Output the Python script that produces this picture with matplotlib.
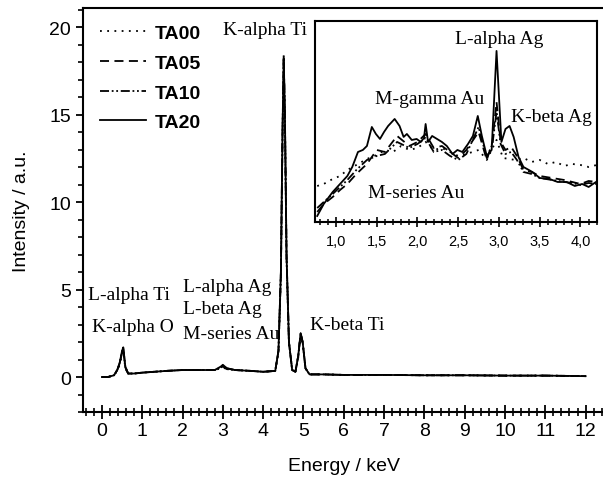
import numpy as np
import matplotlib
matplotlib.use("Agg")
import matplotlib.pyplot as plt
from matplotlib.ticker import MultipleLocator

# main spectrum (keV, a.u.)
main_energy = [0.0, 0.15, 0.3, 0.38, 0.44, 0.5, 0.53, 0.58, 0.65, 0.8, 1.0, 1.3, 1.6, 2.0,
               2.4, 2.8, 2.95, 3.0, 3.1, 3.3, 3.7, 4.0, 4.3, 4.38, 4.44, 4.48, 4.51, 4.54,
               4.58, 4.64, 4.72, 4.8, 4.87, 4.93, 4.98, 5.05, 5.15, 5.5, 6.0, 7.0, 8.0,
               9.0, 10.0, 11.0, 12.0]
main_ta00 = [0.0, 0.0, 0.1, 0.35, 0.7, 1.3, 1.5, 0.5, 0.2, 0.2, 0.25, 0.3, 0.35, 0.4,
             0.4, 0.4, 0.5, 0.55, 0.45, 0.4, 0.35, 0.3, 0.35, 1.4, 5.8, 13.5, 18.0, 14.6,
             6.8, 1.9, 0.4, 0.3, 1.1, 2.4, 1.9, 0.5, 0.15, 0.15, 0.12, 0.12, 0.1, 0.1,
             0.08, 0.08, 0.05]
main_ta05 = [0.0, 0.0, 0.1, 0.4, 0.75, 1.4, 1.6, 0.55, 0.2, 0.2, 0.25, 0.3, 0.35, 0.4,
             0.4, 0.4, 0.55, 0.6, 0.45, 0.4, 0.35, 0.3, 0.35, 1.5, 5.9, 13.8, 18.2, 14.8,
             6.9, 2.0, 0.4, 0.3, 1.2, 2.5, 2.0, 0.5, 0.15, 0.15, 0.12, 0.12, 0.1, 0.1,
             0.08, 0.08, 0.05]
main_ta10 = [0.0, 0.0, 0.1, 0.4, 0.8, 1.5, 1.65, 0.6, 0.2, 0.2, 0.25, 0.3, 0.35, 0.4,
             0.4, 0.4, 0.55, 0.65, 0.5, 0.4, 0.35, 0.3, 0.35, 1.5, 6.0, 14.0, 18.4, 15.0,
             7.0, 2.0, 0.4, 0.3, 1.2, 2.5, 2.0, 0.5, 0.15, 0.15, 0.12, 0.12, 0.1, 0.1,
             0.08, 0.08, 0.05]
main_ta20 = [0.0, 0.0, 0.1, 0.4, 0.8, 1.5, 1.7, 0.6, 0.2, 0.2, 0.25, 0.3, 0.35, 0.4,
             0.4, 0.4, 0.6, 0.7, 0.5, 0.4, 0.35, 0.3, 0.35, 1.5, 6.0, 14.0, 18.3, 15.0,
             7.0, 2.0, 0.4, 0.3, 1.2, 2.5, 2.0, 0.5, 0.15, 0.15, 0.12, 0.12, 0.1, 0.1,
             0.08, 0.08, 0.05]

# inset, 0.75 - 4.2 keV (arbitrary scale)
ins_e00 = [0.77, 0.85, 0.96, 1.05, 1.14, 1.25, 1.38, 1.5, 1.6, 1.7, 1.8, 1.9, 2.0, 2.1,
           2.2, 2.3, 2.4, 2.5, 2.6, 2.75, 2.85, 2.97, 3.05, 3.2, 3.3, 3.4, 3.5, 3.6,
           3.7, 3.8, 3.9, 4.0, 4.1, 4.2]
ins_ta00 = [36, 38, 43, 46, 52, 57, 63, 67, 72, 70, 76, 72, 74, 80, 72, 74, 70, 66, 68,
            72, 62, 82, 64, 62, 64, 60, 62, 58, 60, 56, 58, 57, 55, 57]
ins_e05 = [0.77, 0.85, 0.96, 1.05, 1.14, 1.25, 1.38, 1.5, 1.6, 1.75, 1.9, 2.0, 2.1, 2.2,
           2.3, 2.4, 2.5, 2.6, 2.75, 2.85, 2.92, 2.97, 3.02, 3.08, 3.15, 3.22, 3.3,
           3.4, 3.5, 3.65, 3.8, 3.9, 4.0, 4.1, 4.2]
ins_ta05 = [10, 18, 25, 32, 38, 48, 58, 72, 70, 86, 76, 80, 88, 74, 76, 70, 64, 72, 90,
            62, 80, 120, 80, 72, 75, 66, 52, 50, 46, 44, 42, 40, 38, 41, 40]
ins_ta10 = [14, 20, 28, 35, 42, 52, 62, 66, 68, 80, 74, 78, 84, 70, 72, 66, 62, 68, 95,
            64, 78, 110, 78, 68, 70, 62, 50, 48, 44, 42, 40, 39, 37, 39, 38]
ins_e20 = [0.77, 0.85, 0.96, 1.05, 1.14, 1.2, 1.27, 1.33, 1.38, 1.44, 1.49, 1.54, 1.59,
           1.64, 1.72, 1.78, 1.83, 1.87, 1.93, 1.99, 2.04, 2.08, 2.1, 2.13, 2.18, 2.24,
           2.3, 2.36, 2.43, 2.49, 2.55, 2.62, 2.68, 2.74, 2.79, 2.85, 2.91, 2.97, 3.03,
           3.08, 3.13, 3.18, 3.24, 3.3, 3.41, 3.5, 3.62, 3.72, 3.83, 3.93, 4.02, 4.1, 4.19]
ins_ta20 = [6, 18, 30, 38, 46, 55, 70, 72, 76, 95, 88, 83, 90, 96, 103, 96, 85, 88, 82,
            83, 80, 84, 98, 80, 86, 83, 80, 76, 68, 72, 70, 78, 86, 106, 86, 66, 72, 171,
            80, 93, 96, 85, 65, 55, 50, 44, 43, 40, 40, 36, 38, 35, 40]

series_labels = ["TA00", "TA05", "TA10", "TA20"]
styles = [(0, (1, 3)), (0, (5, 3)), (0, (5, 1.5, 1, 1.5, 1, 1.5)), "-"]

main_curves = [main_ta00, main_ta05, main_ta10, main_ta20]
ins_curves = [(ins_e00, ins_ta00), (ins_e05, ins_ta05), (ins_e05, ins_ta10), (ins_e20, ins_ta20)]

serif = "Liberation Serif"
sans = "Liberation Sans"

fig = plt.figure(figsize=(6.03, 4.81), dpi=100)
ax = fig.add_axes([0.1376, 0.1414, 0.867, 0.8396])
for vals, ls, lab in zip(main_curves, styles, series_labels):
    ax.plot(main_energy, vals, color="black", lw=1.3, linestyle=ls, label=lab)

ax.set_xlim(-0.47, 12.5)
ax.set_ylim(-2, 21.1)
ax.spines["right"].set_visible(False)
for s in ax.spines.values():
    s.set_linewidth(1.5)
ax.xaxis.set_major_locator(MultipleLocator(1))
ax.xaxis.set_minor_locator(MultipleLocator(0.2))
ax.yaxis.set_major_locator(MultipleLocator(5))
ax.yaxis.set_minor_locator(MultipleLocator(1))
ax.tick_params(axis="x", which="major", direction="inout", length=10, width=1.3, labelsize=14, pad=2)
ax.tick_params(axis="x", which="minor", direction="inout", length=5.5, width=1.2)
ax.tick_params(axis="y", which="major", direction="out", length=5, width=1.3, labelsize=14)
ax.tick_params(axis="y", which="minor", direction="out", length=3.5, width=1.2)
for lbl in ax.get_xticklabels() + ax.get_yticklabels():
    lbl.set_fontfamily(sans)
ax.set_xlabel("Energy / keV", fontsize=14, family=sans, labelpad=13)
ax.set_ylabel("Intensity / a.u.", fontsize=14, family=sans, labelpad=14)

leg = ax.legend(loc="upper left", frameon=False, handlelength=2.4, handletextpad=0.45,
                labelspacing=0.62, borderaxespad=0.45, borderpad=0.4,
                prop={"family": sans, "weight": "bold", "size": 14})

tk = dict(family=serif, fontsize=14, color="black")
ax.text(4.05, 19.9, "K-alpha Ti", ha="center", va="center", **tk)
ax.text(-0.35, 4.7, "L-alpha Ti", ha="left", va="center", **tk)
ax.text(-0.25, 2.9, "K-alpha O", ha="left", va="center", **tk)
ax.text(2.0, 5.2, "L-alpha Ag", ha="left", va="center", **tk)
ax.text(2.0, 3.9, "L-beta Ag", ha="left", va="center", **tk)
ax.text(2.0, 2.5, "M-series Au", ha="left", va="center", **tk)
ax.text(5.17, 3.0, "K-beta Ti", ha="left", va="center", **tk)

# inset
ins = fig.add_axes([0.522, 0.5364, 0.4677, 0.418])
for (e, vals), ls in zip(ins_curves, styles):
    ins.plot(e, vals, color="black", lw=1.3, linestyle=ls)
ins.set_xlim(0.74, 4.2)
ins.set_ylim(0, 201)
for s in ins.spines.values():
    s.set_linewidth(1.5)
ins_ticks = [1.0, 1.5, 2.0, 2.5, 3.0, 3.5, 4.0]
ins_ticklabels = ["1,0", "1,5", "2,0", "2,5", "3,0", "3,5", "4,0"]
ins.set_xticks(ins_ticks)
ins.set_xticklabels(ins_ticklabels, family=sans, fontsize=10.5)
ins.xaxis.set_minor_locator(MultipleLocator(0.1))
ins.tick_params(axis="x", which="major", direction="inout", length=7, width=1.2, pad=5)
ins.tick_params(axis="x", which="minor", direction="inout", length=4.5, width=1.1)
ins.set_yticks([])

ti = dict(family=serif, fontsize=14, color="black")
ins.text(3.0, 183, "L-alpha Ag", ha="center", va="center", **ti)
ins.text(2.15, 123, "M-gamma Au", ha="center", va="center", **ti)
ins.text(3.15, 105, "K-beta Ag", ha="left", va="center", **ti)
ins.text(1.39, 29, "M-series Au", ha="left", va="center", **ti)

fig.savefig("out.png", dpi=100)
